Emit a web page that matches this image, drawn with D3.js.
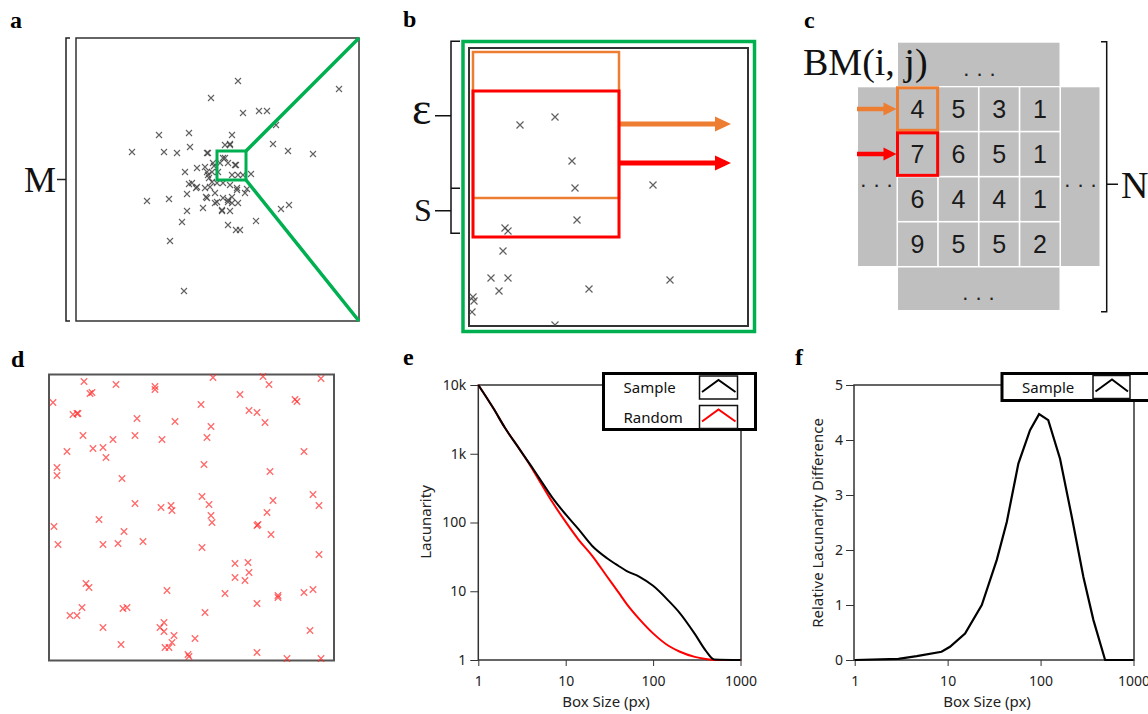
<!DOCTYPE html>
<html lang="en">
<head>
<meta charset="UTF-8">
<title>Lacunarity figure</title>
<script src="https://cdn.jsdelivr.net/npm/d3@7"></script>
<style>
  body { margin: 0; background: #fff; }
  svg { display: block; }
  .panel-label { font-family: 'Liberation Serif', serif; font-weight: bold; font-size: 24px; fill: #000; }
  .serif { font-family: 'Liberation Serif', serif; fill: #111; }
  .tick text { font-family: 'Noto Sans', sans-serif; font-size: 14px; fill: #222; }
  .tick line { stroke: #333; }
  .axis-title { font-family: 'Noto Sans', sans-serif; font-size: 15px; fill: #222; }
  .legend text { font-family: 'Noto Sans', sans-serif; font-size: 15px; fill: #111; }
  .cell text { font-family: 'Liberation Sans', sans-serif; font-size: 25px; fill: #1a1a1a; }
  .dots { font-family: 'Liberation Sans', sans-serif; font-size: 22px; fill: #222; letter-spacing: 7px; }
</style>
</head>
<body>
<svg width="1148" height="714"></svg>
<script>
// a: clustered sample, offsets inside the 283 px field
var clusterPoints = [
  [162,43],[135,60],[263,51],[167,75],[183,73],[191,73],[200,87],[83,97],[113,95],[156,97],
  [56,114],[88,114],[101,115],[114,109],[131,115],[149,107],[154,107],[197,106],[212,113],[237,116],
  [149,120],[159,127],[121,130],[109,134],[137,125],[175,136],[162,137],[113,146],[120,150],[111,156],
  [130,159],[71,163],[93,161],[111,173],[139,165],[156,165],[169,155],[171,151],[161,150],[152,162],
  [146,173],[154,173],[205,171],[213,167],[106,184],[152,187],[160,192],[164,192],[180,183],[94,203],
  [108,253],[154,106],[132,115],[129,129],[131,134],[132,137],[136,134],[142,134],[144,125],[147,120],
  [152,125],[160,127],[156,137],[167,137],[116,145],[121,149],[129,150],[134,149],[136,144],[141,145],
  [147,145],[154,147],[161,152],[131,160],[139,155],[141,164],[147,160],[152,164],[156,159],[146,172],
  [162,165],[127,170],[133,140],[138,128]
];
var insetBox = [141, 113, 29];   // x, y, size of the zoomed region

// b: zoomed region, offsets inside the 279 px field
var zoomPoints = [
  [51,77],[86,69],[103,113],[106,140],[108,172],[184,137],[36,180],[39,183],[34,203],[22,230],
  [39,230],[30,243],[120,241],[201,232],[4,249],[5,253],[3,264],[86,277]
];
var glideSize = 146;
var glideRows = [4, 43];
var glideColors = ["#ed7d31", "#ff0000"];

// c: box mass grid
var boxMass = [
  [4, 5, 3, 1],
  [7, 6, 5, 1],
  [6, 4, 4, 1],
  [9, 5, 5, 2]
];

// d: random points, offsets inside the 285 px field
var randomPoints = [
  [35,7],[67,10],[106,12],[106,15],[164,3],[214,2],[220,10],[272,4],[41,19],[43,18],
  [4,28],[191,20],[152,30],[246,25],[248,27],[24,40],[28,39],[29,39],[200,36],[208,38],
  [88,44],[126,47],[216,48],[162,52],[34,61],[86,61],[64,65],[113,65],[158,63],[18,77],
  [44,74],[54,73],[57,83],[255,77],[8,93],[8,101],[155,90],[221,97],[73,104],[264,120],
  [153,122],[86,129],[112,133],[122,131],[123,136],[160,130],[224,126],[270,131],[218,138],[162,141],
  [163,148],[50,145],[5,152],[208,151],[209,150],[75,157],[222,160],[9,170],[54,170],[69,169],
  [94,167],[153,173],[270,180],[186,189],[199,188],[200,198],[186,203],[196,206],[37,209],[40,213],
  [118,216],[176,219],[229,221],[229,223],[255,218],[264,215],[33,233],[208,229],[74,234],[78,233],
  [21,241],[28,241],[156,238],[54,253],[115,248],[111,253],[115,257],[125,261],[261,256],[146,264],
  [72,270],[123,268],[116,273],[120,273],[139,280],[140,282],[208,278],[238,284],[272,284]
];

// e: lacunarity curves
var boxSizes  = [1, 1.5, 2, 3, 4, 5, 7, 10, 14, 20, 30, 40, 50, 70, 100, 150, 200, 300, 400, 500, 1000];
var lacSample = [10000, 4500, 2430, 1140, 671, 439, 232, 131, 80, 46, 30, 23.5, 19.7, 16.2, 12.0, 7.3, 4.9, 2.4, 1.37, 1.02, 1];
var lacRandom = [10000, 4500, 2430, 1140, 650, 405, 200, 102, 56.5, 33, 16.1, 9.7, 6.5, 3.9, 2.44, 1.61, 1.33, 1.11, 1.035, 1, 1];
var lacTicks = [1, 10, 100, 1000, 10000];
var lacTickLabels = ["1", "10", "100", "1k", "10k"];
var sizeTicks = [1, 10, 100, 1000];

// f: relative lacunarity difference
var diffSizes  = [1, 2.95, 4.65, 8.6, 10.6, 15.4, 23.3, 33.8, 43.3, 57.7, 77, 96.4, 121, 162, 217, 289, 370, 495, 1000];
var diffValues = [0, 0.02, 0.07, 0.15, 0.24, 0.48, 1.0, 1.82, 2.51, 3.57, 4.18, 4.47, 4.36, 3.66, 2.6, 1.51, 0.73, 0, 0];
var diffTicks = [0, 1, 2, 3, 4, 5];

var svg = d3.select("svg");
var green = "#00b050";

function drawCrosses(g, pts, x, y, r, color, width, opacity) {
  g.selectAll(null).data(pts).enter().append("path")
    .attr("d", function(d) {
      var cx = x(d[0]), cy = y(d[1]);
      return "M" + (cx - r) + "," + (cy - r) + "L" + (cx + r) + "," + (cy + r) +
             "M" + (cx - r) + "," + (cy + r) + "L" + (cx + r) + "," + (cy - r);
    })
    .attr("stroke", color).attr("stroke-width", width).attr("opacity", opacity).attr("fill", "none");
}

function drawArrow(g, x1, x2, y, color, shaft, headL, headH) {
  var xh = x2 - headL;
  g.append("path")
    .attr("d", "M" + x1 + "," + (y - shaft / 2) + "H" + xh + "V" + (y - headH / 2) + "L" + x2 + "," + y +
               "L" + xh + "," + (y + headH / 2) + "V" + (y + shaft / 2) + "H" + x1 + "Z")
    .attr("fill", color);
}

function label(t, x, y) {
  svg.append("text").attr("class", "panel-label").attr("x", x).attr("y", y).text(t);
}

// ---------- a ----------
var xa = d3.scaleLinear().domain([0, 283]).range([76, 359]);
var ya = d3.scaleLinear().domain([0, 283]).range([38, 321]);
var ga = svg.append("g");
ga.append("rect").attr("x", xa(0)).attr("y", ya(0)).attr("width", xa(283) - xa(0)).attr("height", ya(283) - ya(0))
  .attr("fill", "none").attr("stroke", "#333").attr("stroke-width", 1.5);
drawCrosses(ga, clusterPoints, xa, ya, 3, "#444", 1.1, 0.85);
ga.append("rect").attr("x", xa(insetBox[0])).attr("y", ya(insetBox[1]))
  .attr("width", xa(insetBox[2]) - xa(0)).attr("height", ya(insetBox[2]) - ya(0))
  .attr("fill", "none").attr("stroke", green).attr("stroke-width", 3);
ga.append("path")
  .attr("d", "M" + xa(insetBox[0] + insetBox[2]) + "," + ya(insetBox[1]) + "L" + xa(283) + "," + ya(0) +
             "M" + xa(insetBox[0] + insetBox[2]) + "," + ya(insetBox[1] + insetBox[2]) + "L" + xa(283) + "," + ya(283))
  .attr("stroke", green).attr("stroke-width", 3.5).attr("fill", "none");
ga.append("path")
  .attr("d", "M70," + ya(0) + "H66V" + ya(283) + "H70M66," + ya(141.5) + "H57")
  .attr("stroke", "#222").attr("stroke-width", 1.5).attr("fill", "none");
ga.append("text").attr("class", "serif").attr("x", 24).attr("y", 192).attr("font-size", 36).text("M");
label("a", 10, 28);

// ---------- b ----------
var xb = d3.scaleLinear().domain([0, 279]).range([469, 748]);
var yb = d3.scaleLinear().domain([0, 278]).range([48, 326]);
var gb = svg.append("g");
gb.append("clipPath").attr("id", "clipb").append("rect")
  .attr("x", xb(0)).attr("y", yb(0)).attr("width", 279).attr("height", 278);
gb.append("rect").attr("x", 463).attr("y", 41.5).attr("width", 291.5).attr("height", 290)
  .attr("fill", "none").attr("stroke", green).attr("stroke-width", 3.5);
gb.append("rect").attr("x", xb(0)).attr("y", yb(0)).attr("width", 279).attr("height", 278)
  .attr("fill", "none").attr("stroke", "#333").attr("stroke-width", 2);
drawCrosses(gb.append("g").attr("clip-path", "url(#clipb)"), zoomPoints, xb, yb, 3.5, "#444", 1.2, 0.85);
glideRows.forEach(function(r, i) {
  gb.append("rect").attr("x", xb(4)).attr("y", yb(r)).attr("width", xb(4 + glideSize) - xb(4))
    .attr("height", yb(r + glideSize) - yb(r))
    .attr("fill", "none").attr("stroke", glideColors[i]).attr("stroke-width", i === 0 ? 2.5 : 3);
  drawArrow(gb, xb(4 + glideSize) + 1, 731, yb(r + glideSize / 2) - 1, glideColors[i], 5, 16, 15);
});
gb.append("path")
  .attr("d", "M460,41.3H451V233.3H460M451,188.3H460M451,115.7H435M451,210.7H435")
  .attr("stroke", "#111").attr("stroke-width", 1.5).attr("fill", "none");
gb.append("text").attr("class", "serif").attr("x", 412).attr("y", 124).attr("font-size", 46).text("ε");
gb.append("text").attr("class", "serif").attr("x", 414).attr("y", 221).attr("font-size", 32).text("S");
label("b", 403, 27);

// ---------- c ----------
var xc = d3.scaleBand().domain([0, 1, 2, 3]).range([898, 1059.5]).paddingInner(0.04);
var yc = d3.scaleBand().domain([0, 1, 2, 3]).range([87.3, 266]).paddingInner(0.035);
var gc = svg.append("g");
var grey = "#bfbfbf";
gc.append("rect").attr("x", xc(0)).attr("y", 42.7).attr("width", xc(3) + xc.bandwidth() - xc(0)).attr("height", 43.3).attr("fill", grey);
gc.append("rect").attr("x", xc(0)).attr("y", 267.5).attr("width", xc(3) + xc.bandwidth() - xc(0)).attr("height", 42.5).attr("fill", grey);
gc.append("rect").attr("x", 858).attr("y", yc(0)).attr("width", 38.5).attr("height", yc(3) + yc.bandwidth() - yc(0)).attr("fill", grey);
gc.append("rect").attr("x", 1061).attr("y", yc(0)).attr("width", 38.5).attr("height", yc(3) + yc.bandwidth() - yc(0)).attr("fill", grey);
var cells = [];
boxMass.forEach(function(row, i) { row.forEach(function(v, j) { cells.push({ r: i, c: j, v: v }); }); });
var cell = gc.selectAll(".cell").data(cells).enter().append("g").attr("class", "cell");
cell.append("rect")
  .attr("x", function(d) { return xc(d.c); }).attr("y", function(d) { return yc(d.r); })
  .attr("width", xc.bandwidth()).attr("height", yc.bandwidth()).attr("fill", grey);
cell.append("text")
  .attr("x", function(d) { return xc(d.c) + xc.bandwidth() / 2; })
  .attr("y", function(d) { return yc(d.r) + yc.bandwidth() / 2 + 9; })
  .attr("text-anchor", "middle").text(function(d) { return d.v; });
glideColors.forEach(function(col, i) {
  gc.append("rect").attr("x", xc(0) - 0.5).attr("y", yc(i) + 0.5).attr("width", xc.bandwidth() + 1)
    .attr("height", yc.bandwidth() - 1).attr("fill", "none").attr("stroke", col).attr("stroke-width", 3);
  drawArrow(gc, 857, xc(0) - 1.5, yc(i) + yc.bandwidth() / 2, col, 4.5, 13, 13);
});
gc.append("text").attr("class", "dots").attr("x", 983).attr("y", 76).attr("text-anchor", "middle").text("...");
gc.append("text").attr("class", "dots").attr("x", 880).attr("y", 187).attr("text-anchor", "middle").text("...");
gc.append("text").attr("class", "dots").attr("x", 1084).attr("y", 187).attr("text-anchor", "middle").text("...");
gc.append("text").attr("class", "dots").attr("x", 982).attr("y", 300).attr("text-anchor", "middle").text("...");
gc.append("path")
  .attr("d", "M1101,41.7H1106.7V311.7H1101M1106.7,184.3H1118")
  .attr("stroke", "#111").attr("stroke-width", 1.5).attr("fill", "none");
gc.append("text").attr("class", "serif").attr("x", 1121).attr("y", 198).attr("font-size", 38).text("N");
gc.append("text").attr("class", "serif").attr("x", 803).attr("y", 75).attr("font-size", 38).text("BM(i, j)");
label("c", 804, 28);

// ---------- d ----------
var xd = d3.scaleLinear().domain([0, 285]).range([49, 334]);
var yd = d3.scaleLinear().domain([0, 286]).range([374.5, 660.5]);
var gd = svg.append("g");
gd.append("rect").attr("x", xd(0)).attr("y", yd(0)).attr("width", 285).attr("height", 286)
  .attr("fill", "none").attr("stroke", "#555").attr("stroke-width", 2);
drawCrosses(gd, randomPoints, xd, yd, 3.2, "#ff2a2a", 1.3, 0.7);
label("d", 11, 367);

// ---------- e ----------
var xE = d3.scaleLog().domain([1, 1000]).range([478.3, 740.5]);
var yE = d3.scaleLog().domain([1, 10000]).range([660, 385]);
var ge = svg.append("g");
ge.append("rect").attr("x", xE(1)).attr("y", yE(10000)).attr("width", 741 - xE(1)).attr("height", yE(1) - yE(10000))
  .attr("fill", "none").attr("stroke", "#333").attr("stroke-width", 1.5);
ge.append("g").attr("transform", "translate(" + xE(1) + ",0)")
  .call(d3.axisLeft(yE).tickValues(lacTicks).tickFormat(function(d, i) { return lacTickLabels[i]; }).tickSize(8).tickPadding(4))
  .call(function(g) { g.select(".domain").remove(); });
ge.append("g").attr("transform", "translate(0," + yE(1) + ")")
  .call(d3.axisBottom(xE).tickValues(sizeTicks).tickFormat(d3.format("d")).tickSize(6).tickPadding(10))
  .call(function(g) { g.select(".domain").remove(); });
var lineE = function(vals) {
  return d3.line().x(function(d, i) { return xE(boxSizes[i]); }).y(function(d) { return yE(d); })
    .curve(d3.curveMonotoneX)(vals);
};
ge.append("path").attr("d", lineE(lacRandom)).attr("fill", "none").attr("stroke", "#ff0000").attr("stroke-width", 2);
ge.append("path").attr("d", lineE(lacSample)).attr("fill", "none").attr("stroke", "#000").attr("stroke-width", 2);
ge.append("text").attr("class", "axis-title").attr("transform", "translate(431,522) rotate(-90)")
  .attr("text-anchor", "middle").text("Lacunarity");
ge.append("text").attr("class", "axis-title").attr("x", 606).attr("y", 707).attr("text-anchor", "middle").text("Box Size (px)");

var legE = ge.append("g").attr("class", "legend").attr("transform", "translate(603.5,373.5)");
legE.append("rect").attr("width", 152).attr("height", 56).attr("fill", "#fff").attr("stroke", "#000").attr("stroke-width", 3);
[["Sample", "#000"], ["Random", "#ff0000"]].forEach(function(s, i) {
  var y0 = 2.5 + i * 29.5;
  legE.append("text").attr("x", 20).attr("y", y0 + 17).text(s[0]);
  legE.append("rect").attr("x", 96).attr("y", y0).attr("width", 38).attr("height", 23)
    .attr("fill", "#fff").attr("stroke", "#111").attr("stroke-width", 1.5);
  legE.append("path").attr("d", "M" + 98.5 + "," + (y0 + 16) + "L115," + (y0 + 4) + "L132," + (y0 + 16))
    .attr("fill", "none").attr("stroke", s[1]).attr("stroke-width", 2);
});
label("e", 403, 365);

// ---------- f ----------
var xF = d3.scaleLog().domain([1, 1000]).range([854.7, 1133.5]);
var yF = d3.scaleLinear().domain([0, 5]).range([660, 385]);
var gf = svg.append("g");
gf.append("rect").attr("x", 854).attr("y", yF(5)).attr("width", 1134 - 854).attr("height", yF(0) - yF(5))
  .attr("fill", "none").attr("stroke", "#333").attr("stroke-width", 1.5);
gf.append("g").attr("transform", "translate(854,0)")
  .call(d3.axisLeft(yF).tickValues(diffTicks).tickFormat(d3.format("d")).tickSize(8).tickPadding(3))
  .call(function(g) { g.select(".domain").remove(); });
gf.append("g").attr("transform", "translate(0," + yF(0) + ")")
  .call(d3.axisBottom(xF).tickValues(sizeTicks).tickFormat(d3.format("d")).tickSize(6).tickPadding(10))
  .call(function(g) { g.select(".domain").remove(); });
gf.append("path")
  .attr("d", d3.line().x(function(d, i) { return xF(diffSizes[i]); }).y(function(d) { return yF(d); })(diffValues))
  .attr("fill", "none").attr("stroke", "#000").attr("stroke-width", 2.2);
gf.append("text").attr("class", "axis-title").attr("transform", "translate(823,523) rotate(-90)")
  .attr("text-anchor", "middle").text("Relative Lacunarity Difference");
gf.append("text").attr("class", "axis-title").attr("x", 987).attr("y", 707).attr("text-anchor", "middle").text("Box Size (px)");

var legF = gf.append("g").attr("class", "legend").attr("transform", "translate(1002,373.5)");
legF.append("rect").attr("width", 160).attr("height", 27).attr("fill", "#fff").attr("stroke", "#000").attr("stroke-width", 3);
legF.append("text").attr("x", 20).attr("y", 19).text("Sample");
legF.append("rect").attr("x", 91).attr("y", 2).attr("width", 37).attr("height", 23)
  .attr("fill", "#fff").attr("stroke", "#111").attr("stroke-width", 1.5);
legF.append("path").attr("d", "M93.5,18L110,6L126,18").attr("fill", "none").attr("stroke", "#000").attr("stroke-width", 2);
label("f", 795, 365);
</script>
</body>
</html>
